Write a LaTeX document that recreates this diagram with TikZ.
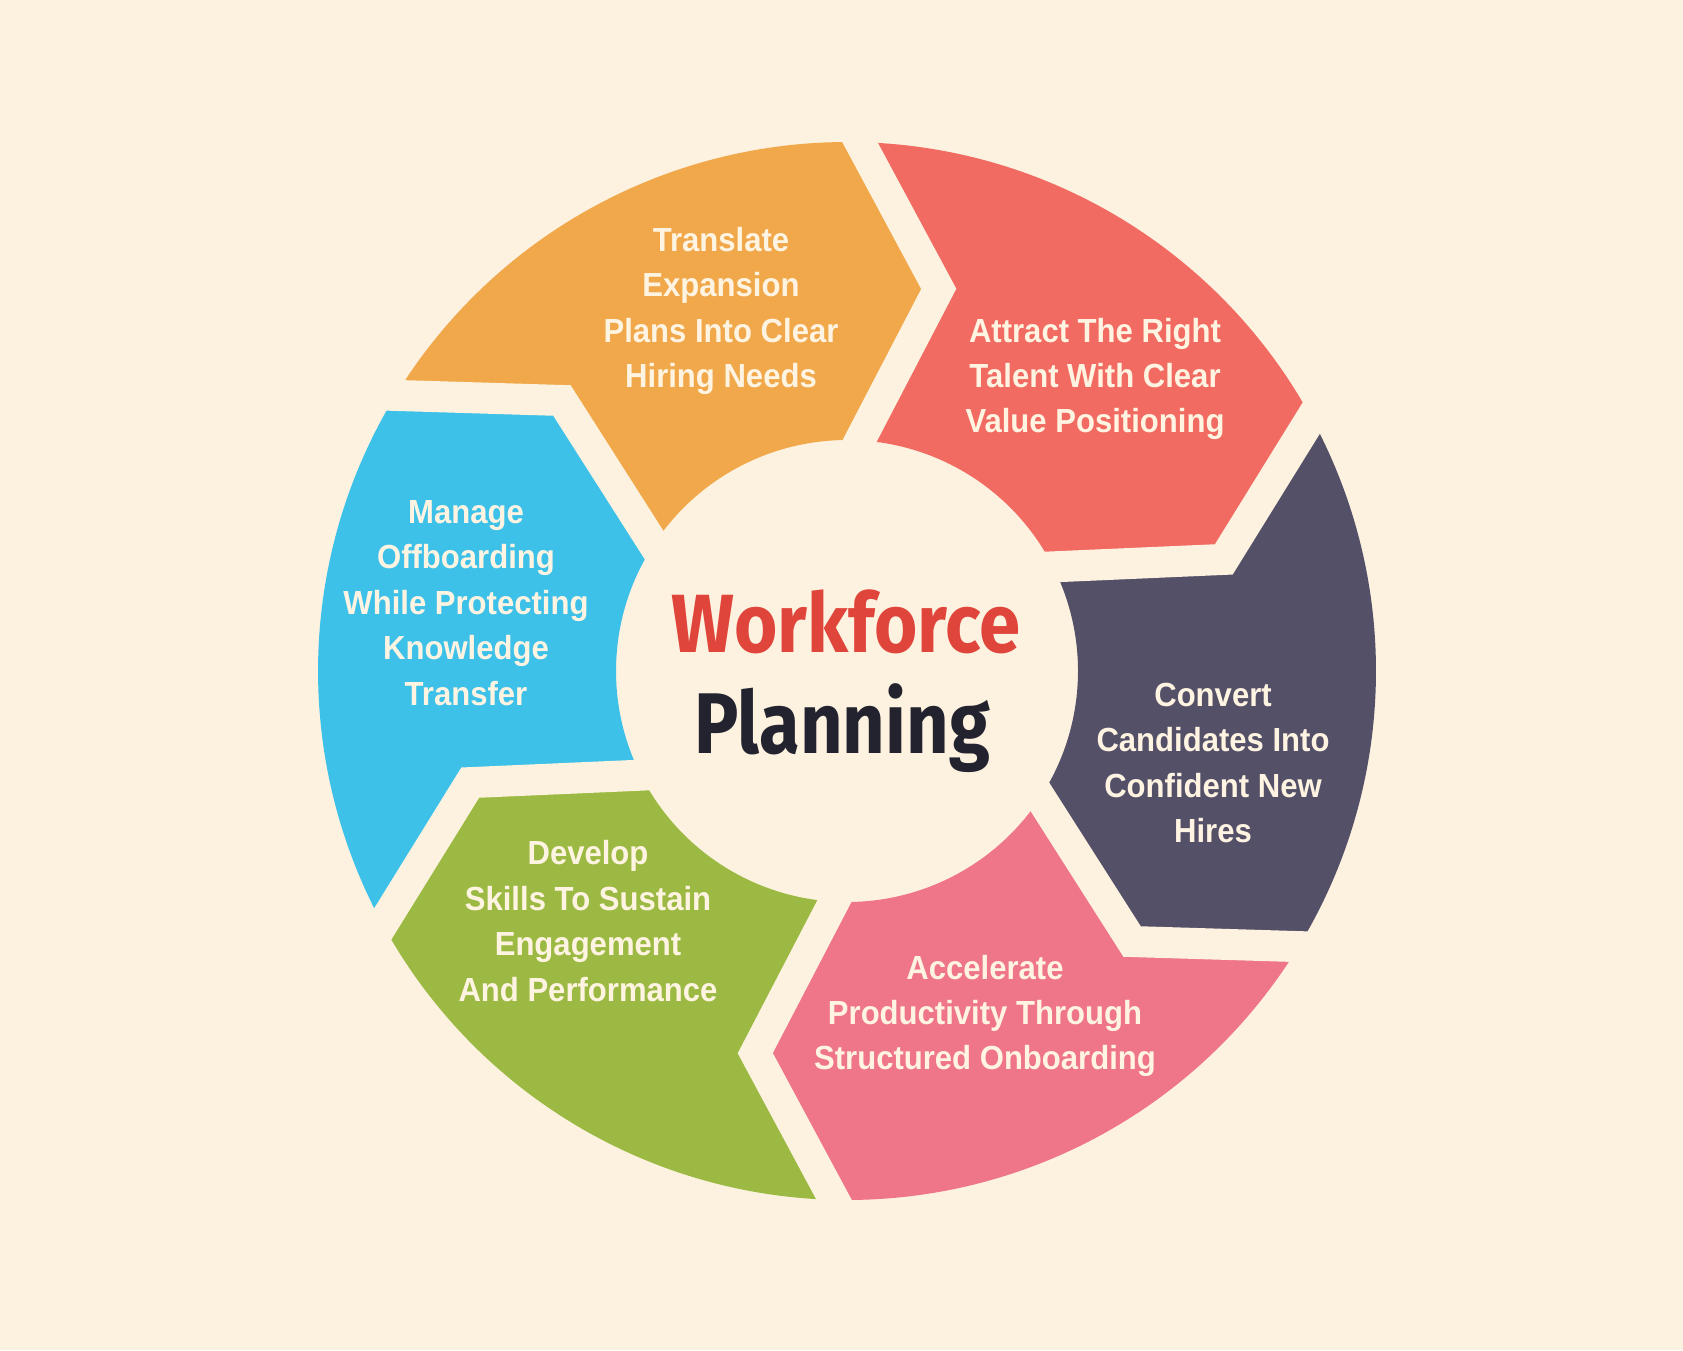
\documentclass[tikz,border=0pt]{standalone}
\usepackage{fontspec}
\usetikzlibrary{calc}
\newfontfamily\segfont[FakeStretch=0.93]{Liberation Sans}
\newfontfamily\titlefont[FakeStretch=0.9]{Fira Sans}
\newfontfamily\titlefontn[FakeStretch=0.86]{Fira Sans}
\definecolor{bgc}{HTML}{FDF2E0}
\definecolor{segred}{HTML}{F16B62}
\definecolor{segdark}{HTML}{545068}
\definecolor{segpink}{HTML}{EF7589}
\definecolor{seggreen}{HTML}{9CBA43}
\definecolor{segblue}{HTML}{3DC1E9}
\definecolor{segorange}{HTML}{F0A84B}
\definecolor{txtc}{HTML}{FFF4E2}
\definecolor{titlered}{HTML}{E0453C}
\definecolor{titledark}{HTML}{23232F}
\tikzset{
  segtext/.style={align=center, text=txtc, inner sep=0pt,
    font=\segfont\bfseries\fontsize{9.5}{12.9}\selectfont},
  gapline/.style={draw=bgc, line width=0.31cm, line join=miter},
  titletext/.style={inner sep=0pt, anchor=base,
    font=\titlefont\bfseries\fontsize{23.5}{28}\selectfont}
}
\begin{document}
\begin{tikzpicture}[x=0.01cm,y=0.01cm]
\fill[bgc] (0,0) rectangle (1683,1350);
\begin{scope}[shift={(847,679)}]
  \foreach \k/\col in {0/segred,1/segdark,2/segpink,3/seggreen,4/segblue,5/segorange}{
    \pgfmathsetmacro\angA{88.6-60*\k}
    \pgfmathsetmacro\angB{\angA-60}
    \pgfmathsetmacro\angBT{\angB-12.1}
    \pgfmathsetmacro\angBI{\angB-1.8}
    \pgfmathsetmacro\angAT{\angA-12.1}
    \pgfmathsetmacro\angAI{\angA-1.8}
    \fill[\col] (\angA:529) arc[start angle=\angA, end angle=\angB, radius=529]
      -- (\angBT:393) -- (\angBI:231)
      arc[start angle=\angBI, end angle=\angAI, radius=231]
      -- (\angAT:393) -- cycle;
  }
  \foreach \k in {0,...,5}{
    \pgfmathsetmacro\angA{88.6-60*\k}
    \pgfmathsetmacro\angT{\angA-12.1}
    \pgfmathsetmacro\angI{\angA-1.8}
    \coordinate (O) at (\angA:529);
    \coordinate (T) at (\angT:393);
    \coordinate (I) at (\angI:231);
    \draw[gapline] ($(T)!1.25!(O)$) -- (T) -- ($(T)!1.4!(I)$);
  }
\end{scope}
\node[segtext] (torange) at (721,1039) {Translate\\Expansion\\Plans Into Clear\\Hiring Needs};
\node[segtext] (tred) at (1095,971) {Attract The Right\\Talent With Clear\\Value Positioning};
\node[segtext] (tdark) at (1213,587) {Convert\\Candidates Into\\Confident New\\Hires};
\node[segtext] (tpink) at (985,334) {Accelerate\\Productivity Through\\Structured Onboarding};
\node[segtext] (tgreen) at (588,429) {Develop\\Skills To Sustain\\Engagement\\And Performance};
\node[segtext] (tblue) at (466,747) {Manage\\Offboarding\\While Protecting\\Knowledge\\Transfer};
\node[titletext, text=titlered] (wf) at (846,698) {Workforce};
\node[titletext, text=titledark, font=\titlefontn\bfseries\fontsize{24.5}{28}\selectfont] (pl) at (842,597) {Planning};
\end{tikzpicture}
\end{document}
